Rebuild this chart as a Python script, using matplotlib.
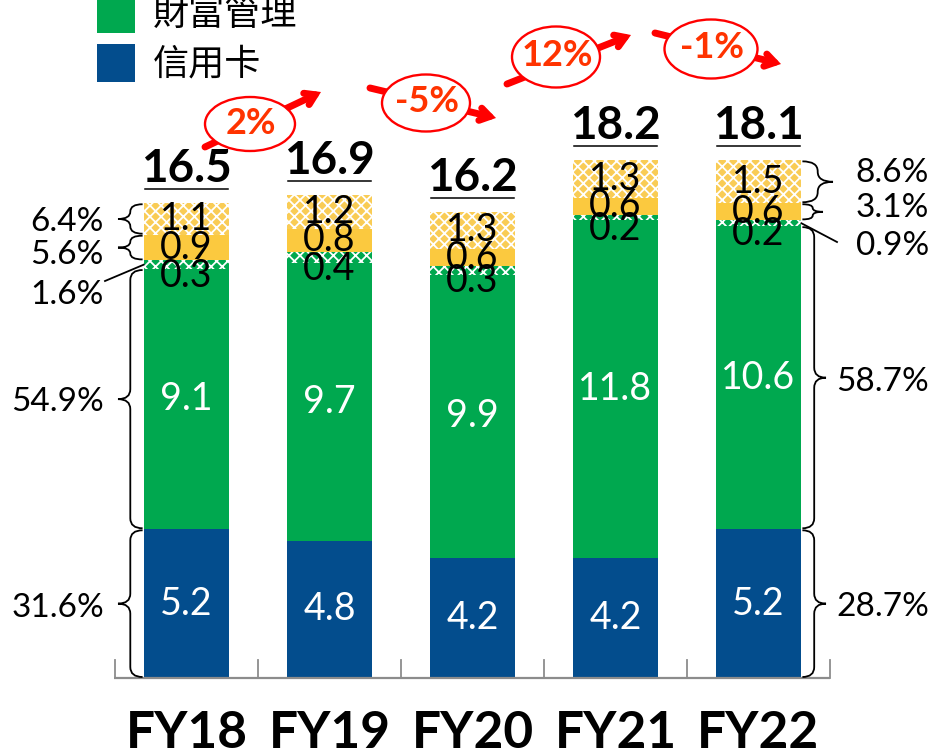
import matplotlib
matplotlib.use('Agg')
import matplotlib.pyplot as plt
from matplotlib.patches import Rectangle, Ellipse, PathPatch
from matplotlib.path import Path

# ---------------- data ----------------
years = ['FY18', 'FY19', 'FY20', 'FY21', 'FY22']
card = [5.2, 4.8, 4.2, 4.2, 5.2]              # 信用卡
wealth = [9.1, 9.7, 9.9, 11.8, 10.6]          # 財富管理
wealth_other = [0.3, 0.4, 0.3, 0.2, 0.2]
yellow_solid = [0.9, 0.8, 0.6, 0.6, 0.6]
yellow_hatch = [1.1, 1.2, 1.3, 1.3, 1.5]
totals = [16.5, 16.9, 16.2, 18.2, 18.1]
growth = ['2%', '-5%', '12%', '-1%']
legend_labels = ['財富管理', '信用卡']
share_first = ['31.6%', '54.9%', '1.6%', '5.6%', '6.4%']   # FY18 shares, bottom -> top
share_last = ['28.7%', '58.7%', '0.9%', '3.1%', '8.6%']    # FY22 shares, bottom -> top

# ---------------- style ----------------
BLUE = '#034D8D'
GREEN = '#00A84F'
YELLOW = '#FBC93F'
YELLOW_H = '#F9CC55'
RED = '#FF0000'
RED_T = '#FF3300'
FONT = ['Lato', 'Noto Sans CJK TC', 'DejaVu Sans']
CJK = ['Noto Sans CJK TC', 'DejaVu Sans']
plt.rcParams['font.family'] = FONT
plt.rcParams['hatch.linewidth'] = 1.3

W, H = 936, 756
X0, DX = 186.5, 143.0      # pixel centre of first bar, pixel spacing
Y0, DY = 678.0, 28.6       # baseline pixel, pixels per unit
BW = 0.6

fig = plt.figure(figsize=(W / 100, H / 100), dpi=100)
ax = fig.add_axes([0, 0, 1, 1])
ax.set_xlim(-X0 / DX, (W - X0) / DX)
ax.set_ylim(-(H - Y0) / DY, Y0 / DY)
ax.axis('off')


def px(x):
    return (x - X0) / DX


def py(y):
    return (Y0 - y) / DY


def to_px_y(v):
    return Y0 - v * DY


def to_px_x(v):
    return X0 + v * DX


x = list(range(len(years)))
layers = [card, wealth, wealth_other, yellow_solid, yellow_hatch]
faces = [BLUE, GREEN, GREEN, YELLOW, YELLOW_H]
hatches = [None, None, 'xxx', None, 'xxx']
bottoms = [0.0] * len(years)
seg_bounds = []
for vals, fc, hh in zip(layers, faces, hatches):
    if hh:
        ax.bar(x, vals, BW, bottom=bottoms, color=fc, edgecolor='white',
               linewidth=0, hatch=hh, zorder=2)
    else:
        ax.bar(x, vals, BW, bottom=bottoms, color=fc, linewidth=0, zorder=2)
    seg_bounds.append([(b, b + v) for b, v in zip(bottoms, vals)])
    bottoms = [b + v for b, v in zip(bottoms, vals)]

# segment labels
for li, vals in enumerate(layers):
    for i, v in enumerate(vals):
        b, t = seg_bounds[li][i]
        ym = (b + t) / 2
        col = 'white' if li < 2 else 'black'
        if li == 2:
            ym -= 11 / DY
        ax.text(i, ym, f'{v:.1f}', ha='center', va='center', color=col,
                fontsize=27, zorder=5)

# totals with line
for i, tot in enumerate(totals):
    top = bottoms[i]
    ly = top + 14 / DY
    ax.plot([i - BW / 2 + 0.01, i + BW / 2 - 0.01], [ly, ly], color='black',
            lw=1.1, zorder=5)
    ax.text(i, ly + 7 / DY, f'{tot:.1f}', ha='center', va='baseline',
            fontsize=33, fontweight='bold', zorder=5)

# x axis
ax.plot([px(114), px(830)], [0, 0], color='#8C8C8C', lw=1.6, zorder=3,
        solid_capstyle='butt')
for k in range(len(years) + 1):
    xx = k - 0.5
    ax.plot([xx, xx], [0, 18 / DY], color='#8C8C8C', lw=1.3, zorder=3)
for i, yr in enumerate(years):
    ax.text(i, py(733), yr, ha='center', va='center', fontsize=37,
            fontweight='bold')


# braces
def brace(x_arm, x_tip, y_top, y_bot, r=10, lw=1.3):
    xs = (x_arm + x_tip) / 2
    ym = (y_top + y_bot) / 2
    r = min(r, (y_bot - y_top) / 4)
    pts = [(x_arm, y_top), (xs, y_top), (xs, y_top + r), (xs, ym - r),
           (xs, ym), (x_tip, ym), (xs, ym), (xs, ym + r), (xs, y_bot - r),
           (xs, y_bot), (x_arm, y_bot)]
    codes = [Path.MOVETO, Path.CURVE3, Path.CURVE3, Path.LINETO,
             Path.CURVE3, Path.CURVE3, Path.CURVE3, Path.CURVE3, Path.LINETO,
             Path.CURVE3, Path.CURVE3]
    verts = [(px(a), py(b)) for a, b in pts]
    ax.add_patch(PathPatch(Path(verts, codes), fill=False, lw=lw,
                           edgecolor='black', zorder=4))
    return ym


# left side (first bar)
i0 = 0
xl = to_px_x(i0 - BW / 2)
text_left = 104
for li, lab in enumerate(share_first):
    b, t = seg_bounds[li][i0]
    ytop, ybot = to_px_y(t), to_px_y(b)
    if li == 2:
        ym = (ytop + ybot) / 2
        ax.plot([px(xl), px(105)], [py(ym), py(281)], color='black', lw=1.3,
                zorder=4)
        ty = 295
    else:
        ym = brace(xl - 1, 118, ytop + 1, ybot - 1)
        ty = ym + {0: 4, 1: 3, 3: 7, 4: 3}[li]
    ax.text(px(text_left), py(ty), lab, ha='right', va='center', fontsize=24)

# right side (last bar)
i1 = len(years) - 1
xr = to_px_x(i1 + BW / 2)
text_right = 929
for li, lab in enumerate(share_last):
    b, t = seg_bounds[li][i1]
    ytop, ybot = to_px_y(t), to_px_y(b)
    if li == 2:
        ym = (ytop + ybot) / 2
        ax.plot([px(xr), px(837)], [py(ym), py(242)], color='black', lw=1.3,
                zorder=4)
        ty = 246
    else:
        tipx = {0: 826, 1: 826, 3: 823, 4: 833}[li]
        ym = brace(xr + 1, tipx, ytop + 1, ybot - 1)
        ty = ym + {0: 3, 1: 4, 3: -4, 4: -9}[li]
    ax.text(px(text_right), py(ty), lab, ha='right', va='center', fontsize=24)

# growth bubbles (pixel layout)
bubbles = [
    dict(c=(250, 124), w=90, h=54, a=((205, 147), (321, 92))),
    dict(c=(426, 103), w=88, h=57, a=((370, 88), (496, 118))),
    dict(c=(556, 57), w=88, h=61, a=((507, 84), (631, 35))),
    dict(c=(711, 49), w=93, h=59, a=((655, 33), (781, 64))),
]
for g, bb in zip(growth, bubbles):
    (sx, sy), (ex, ey) = bb['a']
    ax.annotate('', xy=(px(ex), py(ey)), xytext=(px(sx), py(sy)),
                arrowprops=dict(arrowstyle='->,head_length=0.7,head_width=0.45',
                                color=RED, lw=5, shrinkA=0, shrinkB=0,
                                joinstyle='miter'),
                zorder=6)
    cx, cy = bb['c']
    ax.add_patch(Ellipse((px(cx), py(cy)), bb['w'] / DX, bb['h'] / DY,
                         facecolor='white', edgecolor=RED, lw=1.7, zorder=7))
    ax.text(px(cx + 1), py(cy - 1), g, ha='center', va='center', color=RED_T,
            fontsize=26, fontweight='bold', zorder=8)

# legend
for k, (lab, col) in enumerate(zip(legend_labels, [GREEN, BLUE])):
    top = -5 + k * 49
    ax.add_patch(Rectangle((px(97), py(top + 38)), 38 / DX, 38 / DY,
                           facecolor=col, edgecolor='none', zorder=4))
    ax.text(px(153), py(15 + k * 49), lab, ha='left', va='center',
            fontsize=26, family=CJK)

fig.savefig('out.png', dpi=100)
